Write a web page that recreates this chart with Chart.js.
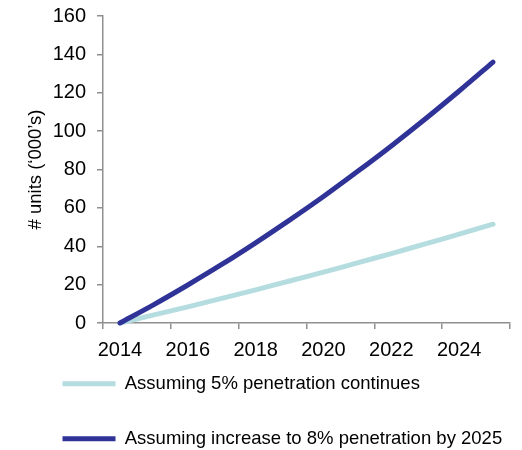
<!DOCTYPE html>
<html>
<head>
<meta charset="utf-8">
<script src="https://cdn.jsdelivr.net/npm/chart.js@4/dist/chart.umd.min.js"></script>
<style>
  html, body { margin: 0; padding: 0; background: #fff; }
  #wrap { width: 522px; height: 450px; position: relative; }
</style>
</head>
<body>
<div id="wrap"><canvas id="c" width="522" height="450"></canvas></div>
<script>
// ---- data ----
const years = ['2014','2015','2016','2017','2018','2019','2020','2021','2022','2023','2024','2025'];
const seriesNames = ['Assuming 5% penetration continues', 'Assuming increase to 8% penetration by 2025'];
const penetration5 = [0, 4.2, 8.4, 12.8, 17.3, 21.9, 26.5, 31.3, 36.2, 41.2, 46.3, 51.5];
const penetration8 = [0, 9.6, 19.8, 30.5, 41.8, 53.6, 65.9, 78.9, 92.3, 106.3, 120.9, 136];
const yTicks = [0, 20, 40, 60, 80, 100, 120, 140, 160];
const yTitle = '# units (\u2018000\u2019s)';

const FONT = "'Liberation Sans', Arial, sans-serif";
const AX = '#8f8f8f';
const LIGHT = '#b5dde0';
const DARK = '#2f3398';

const legendTweak = {
  id: 'legendTweak',
  beforeLayout(chart) {
    const lg = chart.legend;
    if (lg && !lg._patched) {
      const orig = lg.fit.bind(lg);
      lg.fit = function () { orig(); this.height = 87; };
      lg._patched = true;
    }
  },
  afterLayout(chart) {
    const lg = chart.legend;
    if (lg) {
      lg.top = 338;
      lg.bottom = chart.height;
      lg.height = lg.bottom - lg.top;
      lg.left = 26;
    }
  }
};

new Chart(document.getElementById('c'), {
  type: 'line',
  data: {
    labels: years,
    datasets: [
      { label: seriesNames[0], data: penetration5, borderColor: LIGHT, backgroundColor: LIGHT,
        borderWidth: 5, borderCapStyle: 'round', borderJoinStyle: 'round', pointRadius: 0, tension: 0.3, order: 1, clip: false },
      { label: seriesNames[1], data: penetration8, borderColor: DARK, backgroundColor: DARK,
        borderWidth: 5, borderCapStyle: 'round', borderJoinStyle: 'round', pointRadius: 0, tension: 0.3, order: 0, clip: false }
    ]
  },
  options: {
    responsive: false,
    animation: false,
    devicePixelRatio: 1,
    layout: { padding: { top: 16, right: 12, bottom: 0, left: 0 } },
    plugins: {
      tooltip: { enabled: false },
      legend: {
        display: true,
        position: 'bottom',
        align: 'start',
        labels: {
          usePointStyle: true,
          pointStyle: 'line',
          pointStyleWidth: 53,
          padding: 36.5,
          color: '#000',
          font: { family: FONT, size: 18.5 },
          sort: (a, b) => a.datasetIndex - b.datasetIndex
        }
      }
    },
    scales: {
      x: {
        type: 'category',
        offset: true,
        afterFit(s) { s.height = 40; s.paddingLeft = 0; s.paddingRight = 0; },
        grid: {
          offset: true,
          drawOnChartArea: false,
          drawTicks: true,
          tickLength: 6,
          lineWidth: 1.5,
          color: c => (c.index === undefined || c.index % 2 === 0) ? AX : 'rgba(0,0,0,0)',
          tickColor: c => (c.index === undefined || c.index % 2 === 0) ? AX : 'rgba(0,0,0,0)'
        },
        border: { display: true, color: AX, width: 1.5 },
        ticks: {
          autoSkip: false,
          maxRotation: 0,
          padding: 9.5,
          color: '#000',
          font: { family: FONT, size: 20 },
          callback: (v, i) => (i % 2 === 0 ? years[i] : '')
        }
      },
      y: {
        min: yTicks[0],
        max: yTicks[yTicks.length - 1],
        afterFit(s) { s.width = 103; s.paddingTop = 0; s.paddingBottom = 0; },
        afterBuildTicks(s) { s.ticks = yTicks.map(v => ({ value: v })); },
        grid: {
          drawOnChartArea: false,
          drawTicks: true,
          tickLength: 6,
          lineWidth: 1.5,
          color: AX,
          tickColor: AX
        },
        border: { display: true, color: AX, width: 1.5 },
        ticks: {
          padding: 11,
          color: '#000',
          font: { family: FONT, size: 20 }
        },
        title: {
          display: true,
          text: yTitle,
          color: '#000',
          font: { family: FONT, size: 18.5 },
          padding: { top: 25, bottom: 0 }
        }
      }
    }
  },
  plugins: [legendTweak]
});
</script>
</body>
</html>
